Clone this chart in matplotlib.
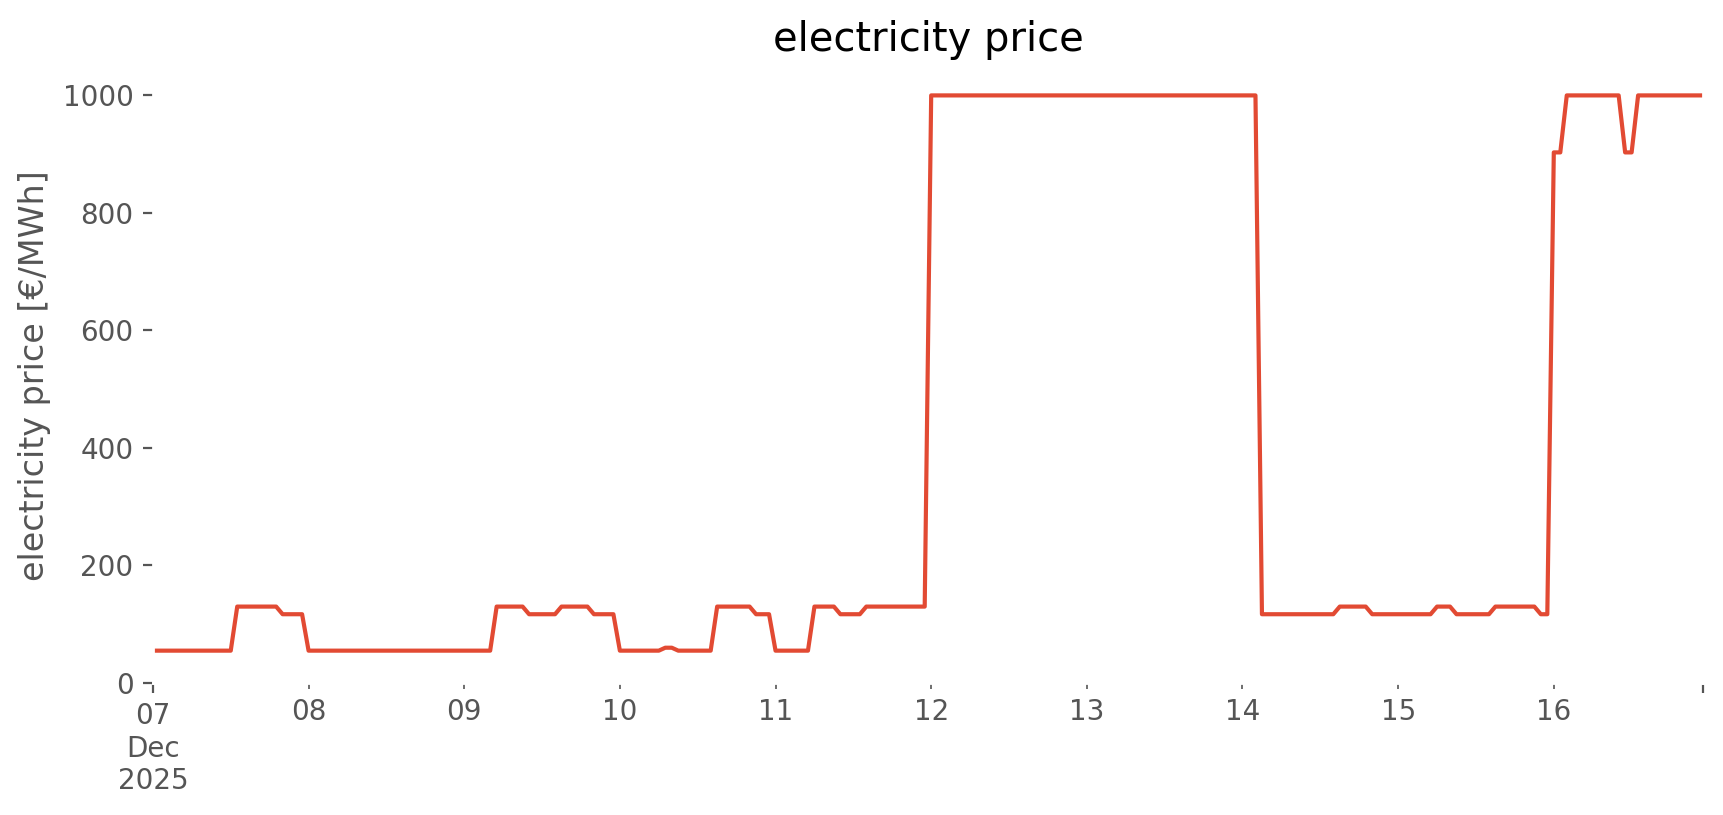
import pandas as pd
import matplotlib
matplotlib.use("Agg")
import matplotlib.pyplot as plt

# hourly day-ahead price, 7-16 Dec 2025 (EUR/MWh), one list per day
dec07 = [55] * 13 + [130] * 7 + [117] * 4
dec08 = [55] * 24
dec09 = [55] * 5 + [130] * 5 + [117] * 5 + [130] * 5 + [117] * 4
dec10 = [55] * 7 + [60] * 2 + [55] * 6 + [130] * 6 + [117] * 3
dec11 = [55] * 6 + [130] * 4 + [117] * 4 + [130] * 10
dec12 = [1000] * 24
dec13 = [1000] * 24
dec14 = [1000] * 3 + [117] * 12 + [130] * 5 + [117] * 4
dec15 = [117] * 6 + [130] * 3 + [117] * 6 + [130] * 7 + [117] * 2
dec16 = [903] * 2 + [1000] * 9 + [903] * 2 + [1000] * 11

prices = dec07 + dec08 + dec09 + dec10 + dec11 + dec12 + dec13 + dec14 + dec15 + dec16
times = pd.date_range("2025-12-07 00:00", periods=len(prices), freq="h")
price = pd.Series(prices, index=times, name="electricity price")

plt.style.use("ggplot")

fig, ax = plt.subplots(figsize=(8.62, 4.075), dpi=200)
fig.subplots_adjust(left=0.0887, right=0.9878, bottom=0.162, top=0.917)

price.plot(ax=ax, color="#E24A33", lw=1.5)
ax.set_facecolor("white")
ax.grid(False)
ax.set_ylim(bottom=0)
ax.set_xlabel("")
ax.set_ylabel("electricity price [€/MWh]")
ax.set_title("electricity price")

fig.savefig("out.png", dpi=200, facecolor="white")
